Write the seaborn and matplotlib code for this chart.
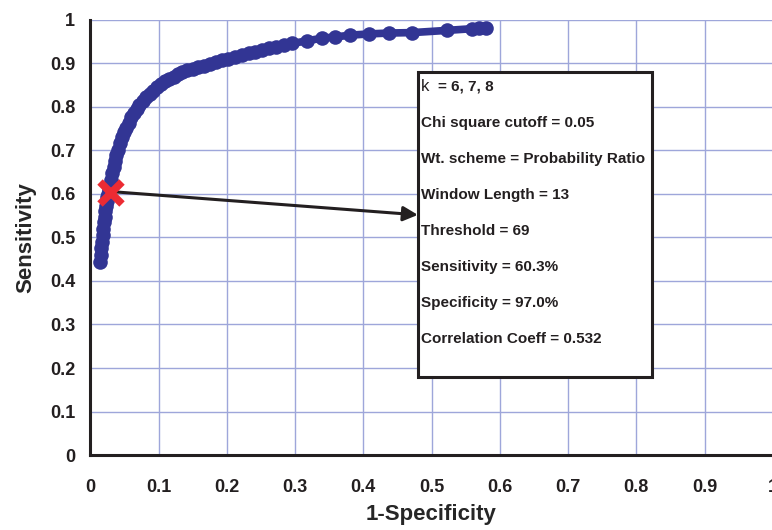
import matplotlib
matplotlib.use("Agg")
import matplotlib.pyplot as plt
import seaborn as sns
import pandas as pd
from matplotlib.patches import Rectangle

# --- data ---
fpr = [0.014, 0.015, 0.016, 0.017, 0.018, 0.019, 0.020, 0.021, 0.022, 0.023,
       0.024, 0.025, 0.026, 0.027, 0.028, 0.030, 0.032, 0.034, 0.036, 0.038,
       0.040, 0.043, 0.046, 0.049, 0.052, 0.056, 0.060, 0.064, 0.068, 0.072,
       0.077, 0.082, 0.087, 0.092, 0.098, 0.104, 0.110, 0.116, 0.122, 0.128,
       0.135, 0.142, 0.150, 0.158, 0.166, 0.175, 0.184, 0.193, 0.202, 0.212,
       0.222, 0.232, 0.242, 0.252, 0.262, 0.272, 0.284, 0.296, 0.317, 0.339,
       0.359, 0.380, 0.409, 0.438, 0.472, 0.522, 0.560, 0.570, 0.580]
tpr = [0.444, 0.460, 0.475, 0.490, 0.505, 0.520, 0.535, 0.548, 0.560, 0.572,
       0.583, 0.592, 0.600, 0.608, 0.616, 0.632, 0.648, 0.662, 0.676, 0.690,
       0.702, 0.718, 0.731, 0.742, 0.752, 0.764, 0.776, 0.787, 0.796, 0.805,
       0.814, 0.822, 0.829, 0.836, 0.845, 0.852, 0.859, 0.865, 0.870, 0.876,
       0.880, 0.884, 0.888, 0.891, 0.895, 0.899, 0.903, 0.907, 0.911, 0.915,
       0.919, 0.923, 0.927, 0.931, 0.935, 0.939, 0.943, 0.946, 0.952, 0.958,
       0.961, 0.965, 0.968, 0.970, 0.971, 0.976, 0.980, 0.981, 0.981]

chosen_fpr = 0.030   # 1 - 97.0% specificity
chosen_tpr = 0.603   # 60.3% sensitivity

box_lines = [
    "Chi square cutoff = 0.05",
    "Wt. scheme = Probability Ratio",
    "Window Length = 13",
    "Threshold = 69",
    "Sensitivity = 60.3%",
    "Specificity = 97.0%",
    "Correlation Coeff = 0.532",
]

ticks = [0, 0.1, 0.2, 0.3, 0.4, 0.5, 0.6, 0.7, 0.8, 0.9, 1]
tick_labels = ["0", "0.1", "0.2", "0.3", "0.4", "0.5", "0.6", "0.7", "0.8", "0.9", "1"]

# --- plot ---
sns.set_theme(style="whitegrid")
plt.rcParams["font.family"] = ["Liberation Sans", "DejaVu Sans"]

fig = plt.figure(figsize=(7.72, 5.30), dpi=100)
ax = fig.add_axes([0.117, 0.1415, 0.884, 0.8208])

df = pd.DataFrame({"fpr": fpr, "tpr": tpr})
sns.lineplot(data=df, x="fpr", y="tpr", sort=False, estimator=None,
             color="#323594", linewidth=5.5, marker="o", markersize=10.5,
             markeredgewidth=0, ax=ax, zorder=3)

ax.plot([chosen_fpr], [chosen_tpr], marker="x", color="#ec2b33",
        markersize=16, markeredgewidth=5.5, linestyle="none", zorder=5)

ax.annotate("", xy=(0.48, 0.552), xytext=(chosen_fpr + 0.005, chosen_tpr + 0.002),
            arrowprops=dict(arrowstyle="-|>", color="#231f20", lw=2.2,
                            mutation_scale=22, shrinkA=0, shrinkB=0),
            zorder=4)

# info box
ax.add_patch(Rectangle((0.48, 0.179), 0.343, 0.701, facecolor="white",
                       edgecolor="#231f20", linewidth=2.2, zorder=6))
y0 = 0.846
step = 0.0827
ax.text(0.485, y0, "k", fontsize=12, color="#231f20", va="center", zorder=7)
ax.text(0.510, y0, "= 6, 7, 8", fontsize=11, fontweight="bold",
        color="#231f20", va="center", zorder=7)
for i, line in enumerate(box_lines):
    ax.text(0.485, y0 - step * (i + 1), line, fontsize=11, fontweight="bold",
            color="#231f20", va="center", zorder=7)

ax.set_xlim(0, 1)
ax.set_ylim(0, 1)
ax.set_xticks(ticks)
ax.set_yticks(ticks)
ax.set_xticklabels(tick_labels, fontsize=13, fontweight="bold")
ax.set_yticklabels(tick_labels, fontsize=13, fontweight="bold")
ax.tick_params(axis="both", length=5, width=2, direction="out", colors="#231f20",
               pad=6)
ax.tick_params(axis="x", pad=12)
ax.grid(True, color="#9ea6da", linewidth=1)

for side in ["top", "right"]:
    ax.spines[side].set_visible(False)
for side in ["left", "bottom"]:
    ax.spines[side].set_color("#231f20")
    ax.spines[side].set_linewidth(2.2)

ax.set_xlabel("1-Specificity", fontsize=16, fontweight="bold", labelpad=6)
ax.set_ylabel("Sensitivity", fontsize=16, fontweight="bold", labelpad=10)

fig.savefig("out.png", dpi=100)
